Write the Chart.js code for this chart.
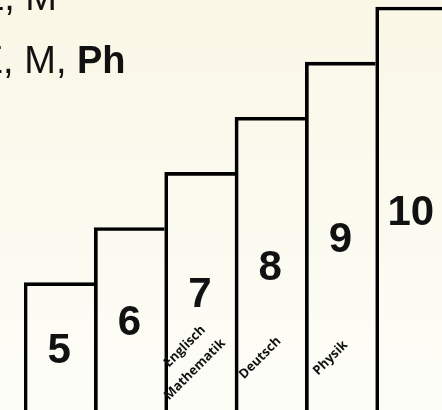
<!DOCTYPE html>
<html>
<head>
<meta charset="utf-8">
<script src="https://cdn.jsdelivr.net/npm/chart.js@4/dist/chart.umd.min.js"></script>
<style>
  html, body { margin: 0; padding: 0; }
  body {
    width: 442px; height: 410px; overflow: hidden;
    background: linear-gradient(to bottom, #faf7e6 0%, #fbfaef 50%, #fdfdf8 100%);
  }
  #wrap { position: relative; width: 446px; height: 410px; }
</style>
</head>
<body>
<div id="wrap"><canvas id="treppe"></canvas></div>
<script>
// ---------------- DADOS ----------------
const klassen = ['5', '6', '7', '8', '9', '10'];
const stufen = [5, 6, 7, 8, 9, 10];
const faecher = [[], [], ['Englisch', 'Mathematik'], ['Deutsch'], ['Physik'], []];
const kopfZeilen = [
  [{ t: 'E, M', bold: false }],
  [{ t: 'E, M, ', bold: false }, { t: 'Ph', bold: true }]
];

// ---------------- TEXTOS (plugin) ----------------
const textePlugin = {
  id: 'texte',
  afterDatasetsDraw(chart) {
    const ctx = chart.ctx;
    const meta = chart.getDatasetMeta(0);
    const y = chart.scales.y;
    ctx.save();
    ctx.fillStyle = '#111';

    // numeros grandes
    ctx.font = 'bold 42px "Liberation Sans", Arial, sans-serif';
    ctx.textAlign = 'center';
    ctx.textBaseline = 'alphabetic';
    meta.data.forEach((bar, i) => {
      ctx.fillText(klassen[i], bar.x, y.getPixelForValue(stufen[i] / 2 + 1.05));
    });

    // materias giradas
    ctx.font = 'bold 13px "Open Sans", sans-serif';
    ctx.textBaseline = 'middle';
    meta.data.forEach((bar, i) => {
      const linhas = faecher[i];
      linhas.forEach((txt, k) => {
        const off = k - (linhas.length - 1) / 2;
        const cx = bar.x - 10 + off * 10;
        const cy = chart.chartArea.bottom - 52 + off * 23;
        ctx.save();
        ctx.translate(cx, cy);
        ctx.rotate(-Math.PI / 4);
        ctx.fillText(txt, 0, 0);
        ctx.restore();
      });
    });

    // cabecalho cortado na esquerda
    ctx.textBaseline = 'alphabetic';
    const bases = [10, 73];
    const fim = [57, 77];
    kopfZeilen.forEach((partes, l) => {
      ctx.textAlign = 'right';
      ctx.font = '38px "Liberation Sans", Arial, sans-serif';
      ctx.fillText(partes[0].t, fim[l], bases[l]);
      if (partes[1]) {
        ctx.textAlign = 'left';
        ctx.font = 'bold 38px "Liberation Sans", Arial, sans-serif';
        ctx.fillText(partes[1].t, fim[l], bases[l]);
      }
    });
    ctx.restore();
  }
};

// ---------------- GRAFICO ----------------
const ctx = document.getElementById('treppe').getContext('2d');
const grafico = new Chart(ctx, {
  type: 'bar',
  data: {
    labels: klassen,
    datasets: [{
      data: stufen,
      backgroundColor: 'rgba(0,0,0,0)',
      borderColor: '#000',
      borderWidth: { top: 3, left: 3, right: 0, bottom: 0 },
      borderSkipped: false,
      categoryPercentage: 1,
      barPercentage: 1
    }]
  },
  options: {
    responsive: true,
    maintainAspectRatio: false,
    animation: false,
    layout: { padding: { left: 24, right: 0, top: 0, bottom: 0 } },
    scales: {
      x: { display: false },
      y: { display: false, min: 2.69, max: 10.127 }
    },
    plugins: { legend: { display: false }, tooltip: { enabled: false } }
  },
  plugins: [textePlugin]
});
</script>
</body>
</html>
